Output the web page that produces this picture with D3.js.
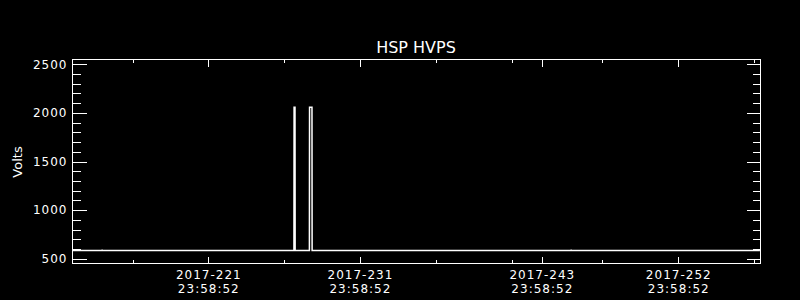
<!DOCTYPE html>
<html>
<head>
<meta charset="utf-8">
<script src="https://cdn.jsdelivr.net/npm/d3@7"></script>
<style>
    body { margin: 0; background: #000; }
    svg { display: block; background: #000; }
    text { font-family: 'DejaVu Sans', sans-serif; fill: #fff; }
    .axis path, .axis line { stroke: #fff; stroke-width: 1; shape-rendering: crispEdges; }
</style>
</head>
<body>
<svg id="Chart" width="800" height="300"></svg>
<script>
// time as day of year 2017 (fractional), voltage
var times = [213.04, 215.02, 215.03, 215.04, 227.68, 227.69, 227.75, 227.76,
    228.70, 228.71, 228.87, 228.88, 245.96, 245.97, 245.98, 258.42];
var volts = [579, 579, 590, 579, 579, 2054, 2054, 579,
    579, 2054, 2054, 579, 579, 590, 579, 579];
var xDomain = [213.04, 258.424];
var yDomain = [451, 2549];
var majorTicks = ['2017-221 23:58:52', '2017-231 23:58:52', '2017-243 23:58:52', '2017-252 23:58:52'];
var minorTicks = ['2017-216 23:58:52', '2017-226 23:58:52', '2017-236 23:58:52',
    '2017-241 23:58:52', '2017-247 23:58:52', '2017-257 23:58:52'];
var yMajor = [500, 1000, 1500, 2000, 2500];
var yMinor = [600, 700, 800, 900, 1100, 1200, 1300, 1400, 1600, 1700, 1800, 1900, 2100, 2200, 2300, 2400];
var title = 'HSP HVPS';
var yTitle = 'Volts';

function doyToDate(doy) {
    return new Date(Date.UTC(2017, 0, 1) + (doy - 1) * 864e5);
}
function parseTick(s) {
    var p = s.split(/[- :]/).map(Number);
    return new Date(Date.UTC(p[0], 0, p[1], p[2], p[3], p[4]));
}

var svg = d3.select('#Chart');
var plotLeft = 72, plotRight = 760, plotTop = 59, plotBottom = 263;

var xScale = d3.scaleUtc()
    .domain(xDomain.map(doyToDate))
    .range([plotLeft, plotRight]);
var yScale = d3.scaleLinear()
    .domain(yDomain)
    .range([plotBottom, plotTop]);

var fmtDay = d3.utcFormat('%Y-%j');
var fmtTime = d3.utcFormat('%H:%M:%S');

// frame
svg.append('rect')
    .attr('x', plotLeft + 0.5).attr('y', plotTop + 0.5)
    .attr('width', plotRight - plotLeft).attr('height', plotBottom - plotTop)
    .attr('fill', 'none').attr('stroke', '#fff')
    .attr('shape-rendering', 'crispEdges');

function drawX(axisFn, y, ticks, size, labels) {
    var g = svg.append('g').attr('class', 'axis')
        .attr('transform', 'translate(0.5,' + (y + 0.5) + ')')
        .call(axisFn(xScale)
            .tickValues(ticks.map(parseTick))
            .tickSizeInner(size).tickSizeOuter(0)
            .tickFormat(''));
    g.select('.domain').remove();
    g.selectAll('.tick text').remove();
    if (labels) {
        var t = g.selectAll('.tick').append('text')
            .attr('text-anchor', 'middle')
            .style('font-size', '12px')
            .style('letter-spacing', '1px');
        t.append('tspan').attr('x', 0).attr('y', 15).text(function (d) { return fmtDay(d); });
        t.append('tspan').attr('x', 0).attr('y', 29.5).text(function (d) { return fmtTime(d); });
    }
}
drawX(d3.axisBottom, plotBottom, majorTicks, -7, true);
drawX(d3.axisBottom, plotBottom, minorTicks, -3.5, false);
drawX(d3.axisTop, plotTop, majorTicks, -7, false);
drawX(d3.axisTop, plotTop, minorTicks, -3.5, false);

function drawY(axisFn, x, ticks, size, labels) {
    var g = svg.append('g').attr('class', 'axis')
        .attr('transform', 'translate(' + (x + 0.5) + ',0.5)')
        .call(axisFn(yScale)
            .tickValues(ticks)
            .tickSizeInner(size).tickSizeOuter(0)
            .tickPadding(5)
            .tickFormat(d3.format('d')));
    g.select('.domain').remove();
    if (!labels) {
        g.selectAll('.tick text').remove();
        return;
    }
    g.selectAll('.tick text')
        .attr('fill', '#fff')
        .attr('font-family', null)
        .attr('font-size', null)
        .style('font-size', '12px')
        .style('letter-spacing', '1px');
}
drawY(d3.axisLeft, plotLeft, yMajor, -14, true);
drawY(d3.axisLeft, plotLeft, yMinor, -8, false);
drawY(d3.axisRight, plotRight, yMajor, -14, false);
drawY(d3.axisRight, plotRight, yMinor, -8, false);

// data line
var line = d3.line()
    .x(function (d, i) { return xScale(doyToDate(times[i])); })
    .y(function (d) { return yScale(d); });
svg.append('path')
    .attr('d', line(volts))
    .attr('fill', 'none')
    .attr('stroke', '#fff')
    .attr('stroke-width', 1.5);

svg.append('text')
    .attr('x', (plotLeft + plotRight) / 2)
    .attr('y', 53)
    .attr('text-anchor', 'middle')
    .style('font-size', '16px')
    .text(title);

svg.append('text')
    .attr('transform', 'translate(22,162) rotate(-90)')
    .attr('text-anchor', 'middle')
    .style('font-size', '13px')
    .text(yTitle);
</script>
</body>
</html>
